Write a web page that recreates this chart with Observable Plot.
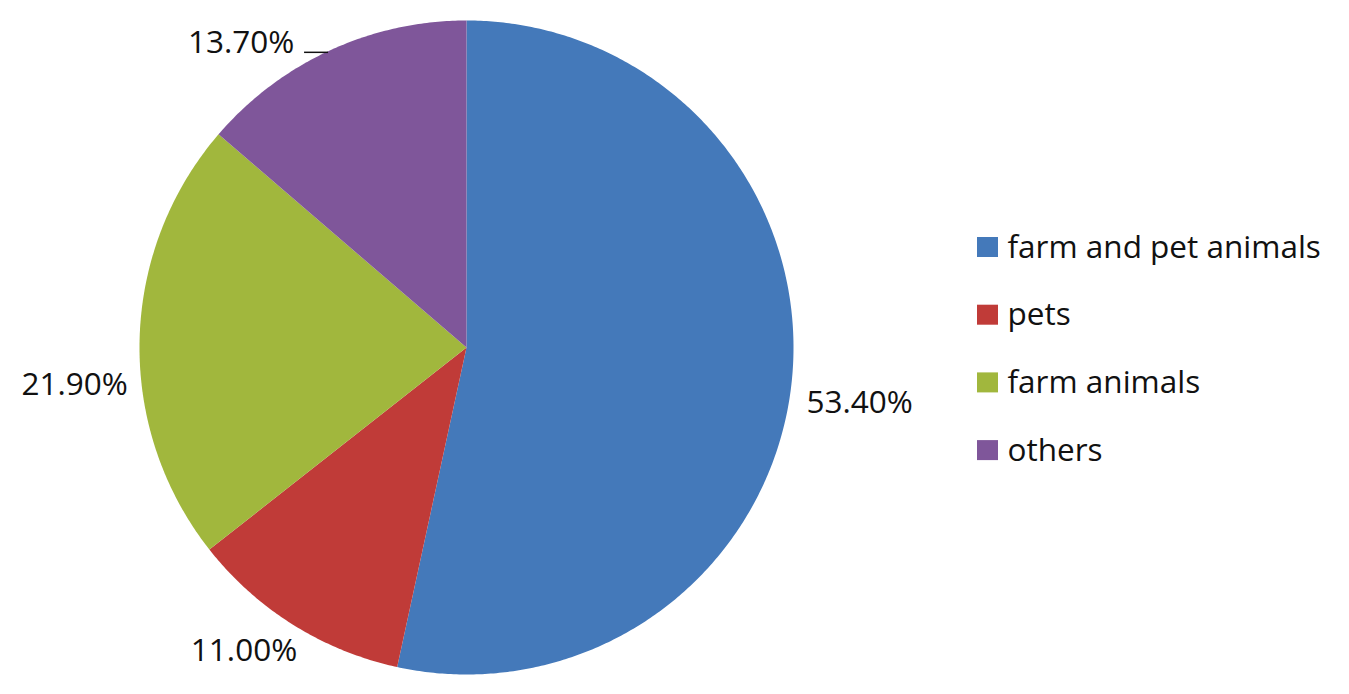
<!DOCTYPE html>
<html>
<head>
<meta charset="utf-8">
<script src="https://cdn.jsdelivr.net/npm/d3@7"></script>
<script src="https://cdn.jsdelivr.net/npm/@observablehq/plot@0.6"></script>
<style>
  html, body { margin: 0; padding: 0; background: #fff; }
  #chart svg { display: block; }
</style>
</head>
<body>
<div id="chart"></div>
<script>
// ---- data ----
const categories = ["farm and pet animals", "pets", "farm animals", "others"];
const shares = [53.4, 11.0, 21.9, 13.7];
const labels = ["53.40%", "11.00%", "21.90%", "13.70%"];
const colors = ["#4479BA", "#C03B38", "#A1B73D", "#7F569A"];

// ---- layout ----
const W = 1349, H = 694;
const cx = 466, cy = 347, R = 327;
const FONT = "'Open Sans', sans-serif";
// label nudges from slice edge (at mid angle) to label centre
const labelNudge = [[68, 21], [-49, 26], [-65, 45], [-89, -7]];
const leader = [false, false, false, true];
const legendX = 977, legendY0 = 247, legendStep = 67.7, legendBox = 20;

const pie = d3.pie().sort(null).value(d => d.value)(categories.map((c, i) => ({cat: c, value: shares[i], i})));

const pt = (a, r) => [cx + r * Math.sin(a), cy - r * Math.cos(a)];

const slicePts = [];
for (const s of pie) {
  const n = Math.max(4, Math.ceil((s.endAngle - s.startAngle) / (Math.PI / 360)));
  slicePts.push({cat: s.data.cat, x: cx, y: cy});
  for (let k = 0; k <= n; k++) {
    const a = s.startAngle + (s.endAngle - s.startAngle) * k / n;
    const [x, y] = pt(a, R);
    slicePts.push({cat: s.data.cat, x, y});
  }
  slicePts.push({cat: s.data.cat, x: cx, y: cy});
}

const labelData = pie.map(s => {
  const mid = (s.startAngle + s.endAngle) / 2;
  const [ex, ey] = pt(mid, R);
  const [dx, dy] = labelNudge[s.data.i];
  return {text: labels[s.data.i], x: ex + dx, y: ey + dy, ex, ey, leader: leader[s.data.i]};
});
const leaders = labelData.filter(d => d.leader).map(d => ({x1: d.x + 63, x2: d.ex - 2, y: d.ey + 2}));

const legendData = categories.map((c, i) => ({cat: c, y: legendY0 + i * legendStep}));

const chart = Plot.plot({
  width: W, height: H,
  margin: 0,
  x: {type: "identity", axis: null},
  y: {type: "identity", axis: null},
  color: {domain: categories, range: colors},
  style: {fontFamily: FONT, background: "#fff"},
  marks: [
    Plot.line(slicePts, {x: "x", y: "y", z: "cat", fill: "cat", stroke: null, curve: "linear"}),
    Plot.text(labelData, {x: "x", y: "y", text: "text", fontSize: 31.5, fill: "#111", textAnchor: "middle"}),
    Plot.link(leaders, {x1: "x1", x2: "x2", y1: "y", y2: "y", stroke: "#111", strokeWidth: 1.5}),
    Plot.rect(legendData, {x1: legendX, x2: legendX + legendBox + 1, y1: d => d.y - legendBox / 2, y2: d => d.y + legendBox / 2, fill: "cat"}),
    Plot.text(legendData, {x: legendX + 30, y: "y", text: "cat", fontSize: 31.5, fill: "#111", textAnchor: "start"})
  ]
});
document.getElementById("chart").appendChild(chart);
</script>
</body>
</html>
